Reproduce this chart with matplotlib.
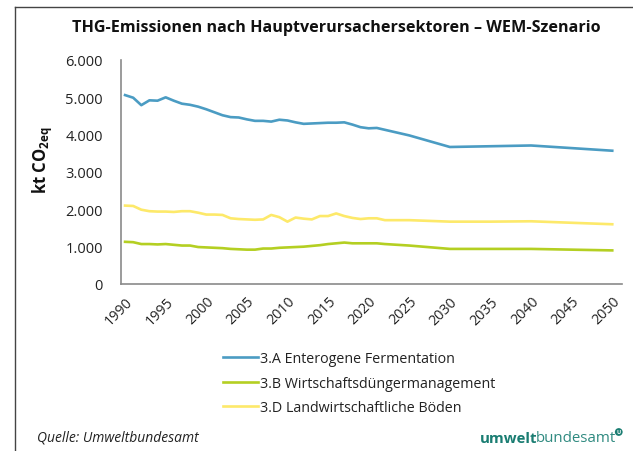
import matplotlib
matplotlib.use("Agg")
import matplotlib.pyplot as plt
from matplotlib.lines import Line2D
from matplotlib.ticker import FuncFormatter

plt.rcParams['font.family'] = ['Open Sans', 'DejaVu Sans']
plt.rcParams['mathtext.fontset'] = 'custom'
plt.rcParams['mathtext.rm'] = 'Open Sans'
plt.rcParams['mathtext.bf'] = 'Open Sans:bold'

years = [1990, 1991, 1992, 1993, 1994, 1995, 1996, 1997, 1998, 1999,
         2000, 2001, 2002, 2003, 2004, 2005, 2006, 2007, 2008, 2009,
         2010, 2011, 2012, 2013, 2014, 2015, 2016, 2017, 2018, 2019,
         2020, 2021, 2022, 2025, 2030, 2035, 2040, 2045, 2050]

enterogene = [5060, 4990, 4790, 4920, 4910, 5000, 4910, 4830, 4800, 4750,
              4680, 4600, 4520, 4470, 4460, 4410, 4370, 4370, 4350, 4400,
              4380, 4330, 4290, 4300, 4310, 4320, 4320, 4330, 4270, 4200,
              4170, 4180, 4130, 3980, 3670, 3690, 3710, 3640, 3570]

duenger = [1130, 1120, 1070, 1070, 1060, 1070, 1050, 1030, 1030, 990,
           980, 970, 960, 940, 930, 920, 920, 950, 950, 970,
           980, 990, 1000, 1020, 1040, 1070, 1090, 1110, 1090, 1090,
           1090, 1090, 1070, 1030, 940, 940, 940, 920, 900]

boeden = [2100, 2090, 1990, 1950, 1940, 1940, 1930, 1950, 1950, 1910,
          1860, 1860, 1850, 1760, 1740, 1730, 1720, 1730, 1850, 1790,
          1670, 1780, 1750, 1730, 1820, 1820, 1890, 1820, 1770, 1740,
          1760, 1760, 1710, 1710, 1670, 1670, 1680, 1640, 1600]

labels = ['3.A Enterogene Fermentation',
          '3.B Wirtschaftsdüngermanagement',
          '3.D Landwirtschaftliche Böden']
colors = ['#4b9cc3', '#b4cf22', '#fde96a']

xticks = list(range(1990, 2051, 5))
yticks = [0, 1000, 2000, 3000, 4000, 5000, 6000]

W, H = 633, 452
fig = plt.figure(figsize=(W / 100, H / 100), dpi=100)
ax = fig.add_axes([121 / W, 1 - 285 / H, (622 - 121) / W, (285 - 61) / H])

for vals, c, lab in zip([enterogene, duenger, boeden], colors, labels):
    ax.plot(years, vals, color=c, lw=1.9, label=lab, solid_joinstyle='round')

ax.set_xlim(1989.5, 2051.2)
ax.set_ylim(0, 6000)
ax.set_xticks(xticks)
ax.set_xticklabels([str(t) for t in xticks], rotation=45, ha='right',
                   rotation_mode='anchor', fontsize=10.3, color='#222222')
ax.set_yticks(yticks)
ax.yaxis.set_major_formatter(FuncFormatter(lambda v, p: f"{int(v):,}".replace(',', '.')))
ax.tick_params(axis='y', length=0, pad=13, labelsize=10.5, labelcolor='#222222')
ax.tick_params(axis='x', length=0, pad=7)
for s in ['top', 'right']:
    ax.spines[s].set_visible(False)
for s in ['left', 'bottom']:
    ax.spines[s].set_color('#8a8a8a')
    ax.spines[s].set_linewidth(1.2)

fig.text(43 / W, 1 - 160 / H, r'kt CO$_\mathbf{2eq}$', rotation=90,
         fontsize=12, fontweight='bold', ha='center', va='center', color='#111111')

fig.text(336 / W, 1 - 28 / H,
         'THG-Emissionen nach Hauptverursachersektoren – WEM-Szenario',
         fontsize=11.6, fontweight='bold', ha='center', va='center', color='#111111')

handles, labs = ax.get_legend_handles_labels()
fig.legend(handles, labs, loc='upper left', bbox_to_anchor=(223 / W, 1 - 352 / H),
           frameon=False, fontsize=10.3, handlelength=2.45, handletextpad=0.15,
           labelspacing=0.68, borderpad=0, borderaxespad=0, labelcolor='#222222')

fig.text(37 / W, 1 - 438 / H, 'Quelle: Umweltbundesamt', fontstyle='italic',
         fontsize=10, ha='left', va='center', color='#222222')

t1 = fig.text(480 / W, 1 - 439 / H, 'umwelt', fontweight='bold', fontsize=10.8,
              ha='left', va='center', color='#1a7d72')
fig.canvas.draw()
bb = t1.get_window_extent()
t2 = fig.text((bb.x1 - 2) / W, 1 - 439 / H, 'bundesamt', fontsize=10.8,
              ha='left', va='center', color='#2f8a80')
fig.canvas.draw()
bb2 = t2.get_window_extent()
fig.text((bb2.x1 + 3) / W, 1 - 433 / H, 'U', fontsize=4, fontweight='bold',
         ha='center', va='center', color='white',
         bbox=dict(boxstyle='circle,pad=0.25', fc='#1a7d72', ec='none'))

fig.add_artist(Line2D([15 / W, 15 / W], [0, 1 - 8 / H], transform=fig.transFigure,
                      color='#444444', lw=1.0))
fig.add_artist(Line2D([15 / W, 1], [1 - 8 / H, 1 - 8 / H], transform=fig.transFigure,
                      color='#444444', lw=1.0))

fig.savefig('out.png', dpi=100)
